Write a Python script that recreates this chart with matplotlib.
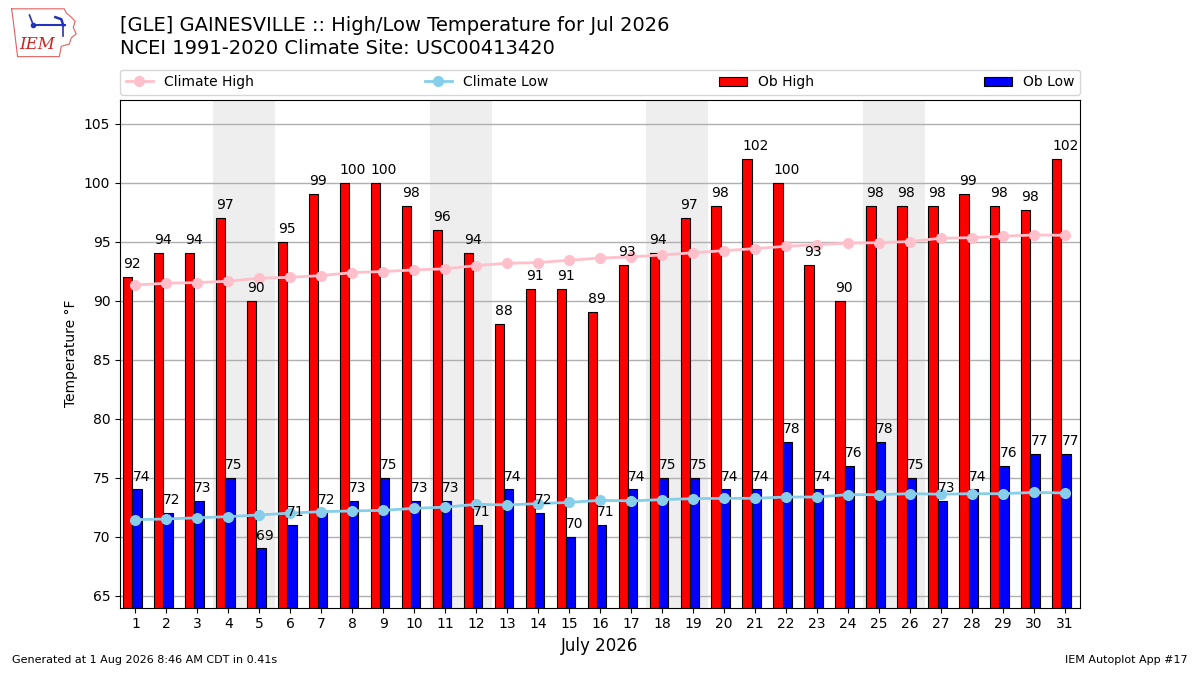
import matplotlib
matplotlib.use("Agg")
import matplotlib.pyplot as plt
import numpy as np

days = list(range(1, 32))
ob_high = [92, 94, 94, 97, 90, 95, 99, 100, 100, 98, 96, 94, 88, 91, 91, 89,
           93, 94, 97, 98, 102, 100, 93, 90, 98, 98, 98, 99, 98, 97.7, 102]
ob_low = [74, 72, 73, 75, 69, 71, 72, 73, 75, 73, 73, 71, 74, 72, 70, 71,
          74, 75, 75, 74, 74, 78, 74, 76, 78, 75, 73, 74, 76, 77, 77]
clim_high = [91.32, 91.47, 91.53, 91.64, 91.9, 91.97, 92.12, 92.37, 92.46, 92.6,
             92.69, 92.97, 93.16, 93.22, 93.42, 93.6, 93.7, 93.87, 94.05, 94.23,
             94.4, 94.6, 94.74, 94.86, 94.91, 95.0, 95.28, 95.33, 95.45, 95.56, 95.53]
clim_low = [71.44, 71.5, 71.6, 71.7, 71.84, 72.0, 72.12, 72.18, 72.23, 72.4,
            72.5, 72.74, 72.69, 72.8, 72.9, 73.08, 73.03, 73.14, 73.22, 73.25,
            73.25, 73.36, 73.36, 73.56, 73.56, 73.64, 73.6, 73.64, 73.64, 73.75, 73.7]
weekends = [(4, 5), (11, 12), (18, 19), (25, 26)]

title_lines = ["[GLE] GAINESVILLE :: High/Low Temperature for Jul 2026",
               "NCEI 1991-2020 Climate Site: USC00413420"]

fig = plt.figure(figsize=(12, 6.75), dpi=100)
ax = fig.add_axes([0.1, 0.1, 0.8, 0.752])

x = np.array(days, dtype=float)
for a, b in weekends:
    ax.axvspan(a - 0.5, b + 0.5, color="#EEEEEE", zorder=0, lw=0)

ax.bar(x - 0.4, ob_high, width=0.3, align="edge", color="red",
       edgecolor="black", linewidth=0.8, label="Ob High", zorder=2)
ax.bar(x - 0.1, ob_low, width=0.3, align="edge", color="blue",
       edgecolor="black", linewidth=0.8, label="Ob Low", zorder=2)

for xi, h, l in zip(x, ob_high, ob_low):
    ax.text(xi - 0.4, h + 0.5, f"{h:.0f}", ha="left", va="bottom",
            fontsize=10, zorder=4)
    ax.text(xi - 0.1, l + 0.5, f"{l:.0f}", ha="left", va="bottom",
            fontsize=10, zorder=4)

ax.plot(x, clim_high, color="pink", marker="o", markersize=7, lw=2,
        label="Climate High", zorder=3)
ax.plot(x, clim_low, color="skyblue", marker="o", markersize=7, lw=2,
        label="Climate Low", zorder=3)

ax.set_xlim(0.5, 31.5)
ax.set_ylim(64, 107)
ax.set_xticks(days)
ax.set_yticks(np.arange(65, 106, 5))
ax.tick_params(labelsize=10)
ax.yaxis.grid(True, color="#b0b0b0", lw=1)
ax.set_axisbelow(True)
ax.set_ylabel("Temperature °F", fontsize=10)
ax.set_xlabel("July 2026", fontsize=12)

handles, labels = ax.get_legend_handles_labels()
order = [labels.index(n) for n in ["Climate High", "Climate Low", "Ob High", "Ob Low"]]
ax.legend([handles[i] for i in order], [labels[i] for i in order],
          loc="lower left", bbox_to_anchor=(0, 1.01, 1, 0.05), mode="expand",
          ncol=4, fontsize=10, borderaxespad=0)

fig.text(0.1, 0.962, title_lines[0], fontsize=14, ha="left", va="center")
fig.text(0.1, 0.928, title_lines[1], fontsize=14, ha="left", va="center")

fig.text(0.01, 0.015, "Generated at 1 Aug 2026 8:46 AM CDT in 0.41s",
         fontsize=8, ha="left", va="bottom")
fig.text(0.99, 0.015, "IEM Autoplot App #17", fontsize=8, ha="right", va="bottom")

# simple logo approximation
lax = fig.add_axes([0.008, 0.913, 0.058, 0.077])
lax.set_xlim(0, 70)
lax.set_ylim(0, 50)
lax.axis("off")
outline_x = [2, 55, 57, 62, 66, 64, 67, 62, 60, 52, 50, 8, 6, 4, 2]
outline_y = [48, 48, 44, 40, 36, 30, 24, 20, 14, 12, 2, 2, 18, 34, 48]
lax.plot(outline_x, outline_y, color="#e06060", lw=0.8)
lax.plot([24, 56], [32, 32], color="#2233bb", lw=1.5)
lax.plot([20, 24], [42, 32], color="#2233bb", lw=1.2)
lax.plot([46, 52, 54], [40, 38, 32], color="#2233bb", lw=1.8)
lax.plot([54, 54], [32, 22], color="#2233bb", lw=1.2)
lax.plot(24, 32, "o", color="#2233bb", ms=3)
lax.text(28, 14, "IEM", fontsize=12, color="#cc2222", family="DejaVu Serif",
         style="italic", ha="center", va="center")

fig.savefig("out.png", dpi=100)
